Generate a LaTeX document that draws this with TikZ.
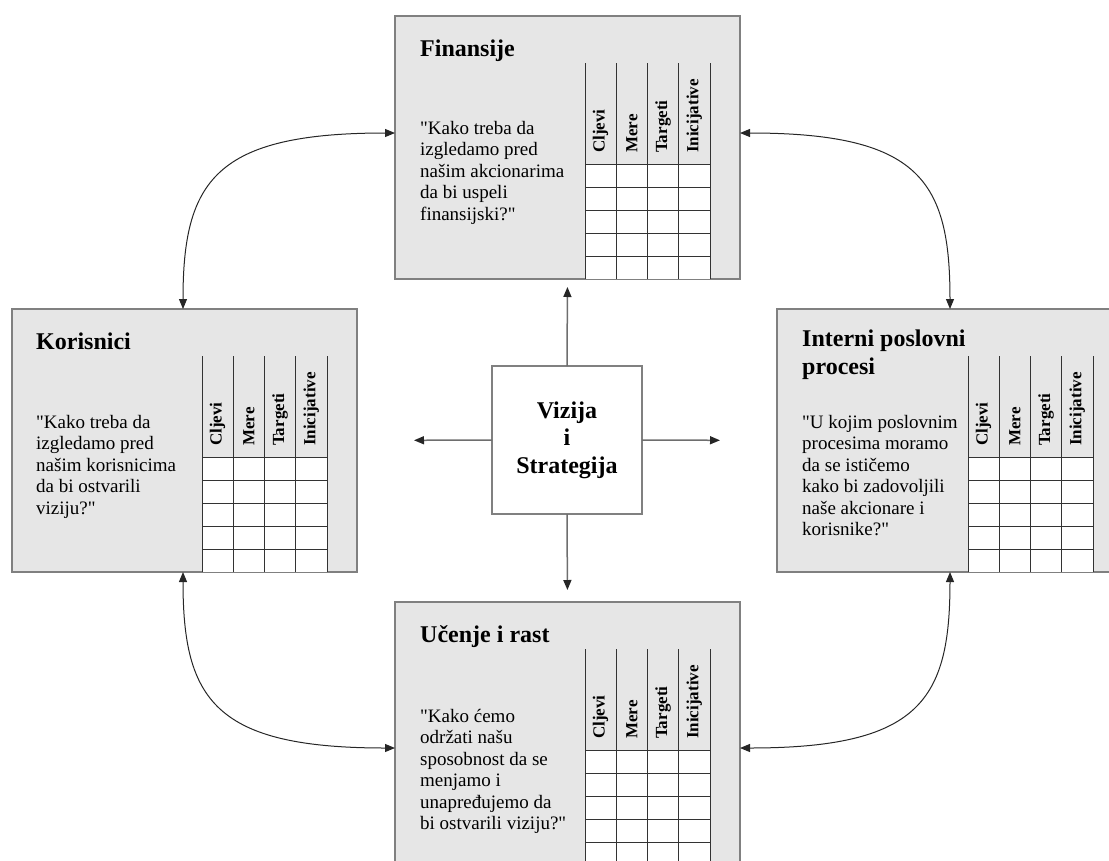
\documentclass[tikz,border=0pt]{standalone}
\usepackage{fontspec}
\setmainfont{Liberation Serif}
\usetikzlibrary{arrows.meta,calc}
\definecolor{boxfill}{HTML}{E6E6E6}
\definecolor{boxline}{HTML}{808080}
\definecolor{gridline}{HTML}{333333}
\definecolor{rayline}{HTML}{6E6E6E}
\newcommand{\sq}{\textquotedbl}
\tikzset{
  scoretab/.pic={
    \fill[white] (0,101) rectangle (125,216);
    \foreach \r in {0,...,4} \draw[gridln] (0,{101+23*\r}) -- (125,{101+23*\r});
    \foreach \c in {0,...,4} \draw[gridln] ({31.25*\c},0) -- ({31.25*\c},216);
    \foreach \lab [count=\c from 0] in {Cljevi,Mere,Targeti,Inicijative}
      \node[colhead] (-h\c) at ({31.25*\c+15.6},90) {\lab};
  }
}
\begin{document}
\begin{tikzpicture}[x=1pt,y=-1pt,
  panel/.style={draw=boxline, fill=boxfill, line width=1.5pt, minimum width=345pt,
    minimum height=263pt, inner sep=0pt, outer sep=0pt, anchor=north west},
  gridln/.style={draw=gridline, line width=1pt},
  ptitle/.style={font=\fontsize{24}{28}\selectfont\bfseries, inner sep=0pt, align=left},
  pquote/.style={font=\fontsize{19}{21.5}\selectfont, anchor=north west, inner sep=0pt, align=left},
  colhead/.style={font=\fontsize{17}{17}\selectfont\bfseries, rotate=90, anchor=west, inner sep=0pt},
  vision/.style={draw=boxline, fill=white, line width=1.5pt, minimum width=150pt,
    minimum height=148pt, outer sep=0pt, font=\fontsize{24}{27.5}\selectfont\bfseries, align=center},
  link/.style={draw=black!85, line width=1pt,
    {Triangle[length=10pt,width=8pt]}-{Triangle[length=10pt,width=8pt]}},
  ray/.style={draw=rayline, line width=1.5pt, -{Triangle[length=10pt,width=8pt,color=black!85]}},
]
\useasboundingbox (0,0) rectangle (1109,860);
\begin{scope}
\clip (0,0) rectangle (1109,860);
% panels
\node[panel] (fin) at (395,16) {};
\node[panel] (kor) at (12,309) {};
\node[panel] (int) at (777,309) {};
\node[panel] (uce) at (395,602) {};
% tables
\pic (fin-tab) at ($(fin.north west)+(190,47)$) {scoretab};
\pic (kor-tab) at ($(kor.north west)+(190,47)$) {scoretab};
\pic (int-tab) at ($(int.north west)+(191,47)$) {scoretab};
\pic (uce-tab) at ($(uce.north west)+(190,47)$) {scoretab};
% titles
\node[ptitle, anchor=base west] (fin-t) at ($(fin.north west)+(25,40)$) {Finansije};
\node[ptitle, anchor=base west] (kor-t) at ($(kor.north west)+(24,40)$) {Korisnici};
\node[ptitle, anchor=north west] (int-t) at ($(int.north west)+(25,21)$) {Interni poslovni\\procesi};
\node[ptitle, anchor=base west] (uce-t) at ($(uce.north west)+(25,40)$) {Učenje i rast};
% questions
\node[pquote] (fin-q) at ($(fin.north west)+(25,105)$) {\sq Kako treba da\\izgledamo pred\\našim akcionarima\\da bi uspeli\\finansijski?\sq};
\node[pquote] (kor-q) at ($(kor.north west)+(24,106)$) {\sq Kako treba da\\izgledamo pred\\našim korisnicima\\da bi ostvarili\\viziju?\sq};
\node[pquote] (int-q) at ($(int.north west)+(25,106)$) {\sq U kojim poslovnim\\procesima moramo\\da se ističemo\\kako bi zadovoljili\\naše akcionare i\\korisnike?\sq};
\node[pquote] (uce-q) at ($(uce.north west)+(25,107)$) {\sq Kako ćemo\\održati našu\\sposobnost da se\\menjamo i\\unapređujemo da\\bi ostvarili viziju?\sq};
% centre
\node[vision] (viz) at (567,440) {Vizija\\i\\Strategija};
% rays
\draw[ray, shorten >=8pt] (viz.north) -- (fin.south);
\draw[ray, shorten >=12pt] (viz.south) -- (uce.north);
\draw[ray, shorten >=57pt] (viz.west) -- (kor.east);
\draw[ray, shorten >=57pt] (viz.east) -- (int.west);
% link anchors
\coordinate (fin-l) at ($(fin.north west)+(0,117)$);
\coordinate (fin-r) at ($(fin.north east)+(0,117)$);
\coordinate (kor-n) at ($(kor.north west)+(171,0)$);
\coordinate (kor-s) at ($(kor.south west)+(171,0)$);
\coordinate (int-n) at ($(int.north west)+(173,0)$);
\coordinate (int-s) at ($(int.south west)+(173,0)$);
\coordinate (uce-l) at ($(uce.north west)+(0,146)$);
\coordinate (uce-r) at ($(uce.north east)+(0,146)$);
% links
\draw[link] (kor-n) .. controls ($(kor-n)+(0,-128)$) and ($(fin-l)+(-180,0)$) .. (fin-l);
\draw[link] (fin-r) .. controls ($(fin-r)+(180,0)$) and ($(int-n)+(0,-128)$) .. (int-n);
\draw[link] (kor-s) .. controls ($(kor-s)+(0,128)$) and ($(uce-l)+(-180,0)$) .. (uce-l);
\draw[link] (int-s) .. controls ($(int-s)+(0,128)$) and ($(uce-r)+(180,0)$) .. (uce-r);
\end{scope}
\end{tikzpicture}
\end{document}
